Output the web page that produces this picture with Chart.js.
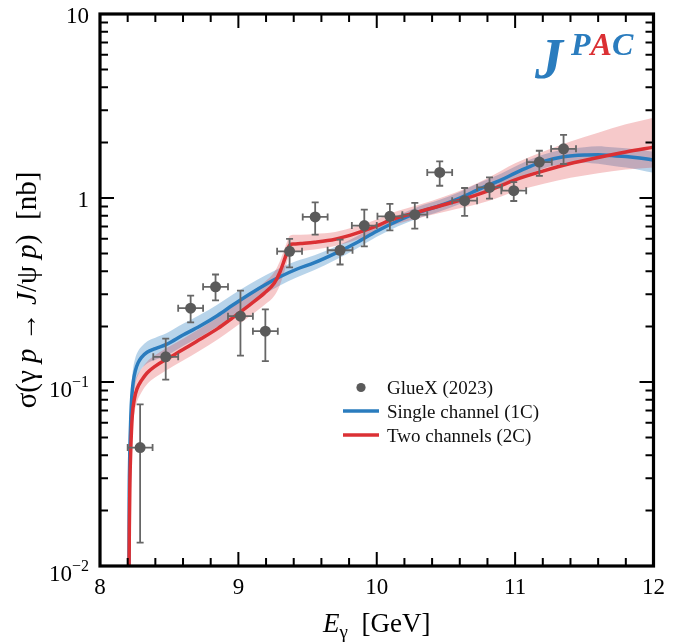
<!DOCTYPE html>
<html><head><meta charset="utf-8">
<script src="https://cdn.jsdelivr.net/npm/chart.js@4.4.0/dist/chart.umd.min.js"></script>
<style>html,body{margin:0;padding:0;background:#fff;}canvas{display:block;}</style>
</head><body>
<canvas id="c" width="673" height="643" style="width:673px;height:643px"></canvas>
<script>
// ---------- data ----------
const gluexE     = [8.29, 8.475, 8.655, 8.835, 9.015, 9.195, 9.37, 9.555, 9.735, 9.91, 10.095, 10.275, 10.455, 10.635, 10.815, 10.99, 11.175, 11.35];
const gluexSigma = [0.044, 0.137, 0.252, 0.329, 0.228, 0.189, 0.513, 0.789, 0.520, 0.708, 0.795, 0.812, 1.377, 0.967, 1.142, 1.096, 1.568, 1.851];
const gluexUp    = [0.0756, 0.172, 0.295, 0.384, 0.314, 0.248, 0.599, 0.946, 0.594, 0.864, 0.928, 0.940, 1.580, 1.133, 1.294, 1.221, 1.806, 2.206];
const gluexLow   = [0.0134, 0.103, 0.211, 0.278, 0.139, 0.130, 0.420, 0.632, 0.435, 0.546, 0.667, 0.681, 1.166, 0.800, 0.991, 0.963, 1.320, 1.530];
const gluexEErr  = [0.09, 0.09, 0.09, 0.09, 0.09, 0.09, 0.09, 0.09, 0.09, 0.09, 0.09, 0.09, 0.09, 0.09, 0.09, 0.09, 0.09, 0.09];

// Single channel (1C)
const c1E     = [8.208, 8.211, 8.214, 8.218, 8.223, 8.23, 8.24, 8.255, 8.275, 8.3, 8.34, 8.4, 8.48, 8.6, 8.72, 8.85, 8.96, 9.08, 9.2, 9.3, 9.42, 9.55, 9.7, 9.85, 10.0, 10.15, 10.3, 10.45, 10.6, 10.75, 10.9, 11.0, 11.1, 11.2, 11.35, 11.5, 11.6, 11.7, 11.8, 11.9, 12.0];
const c1Sigma = [0.004, 0.022, 0.036, 0.050, 0.066, 0.084, 0.100, 0.115, 0.127, 0.136, 0.145, 0.152, 0.160, 0.180, 0.201, 0.230, 0.262, 0.300, 0.340, 0.373, 0.410, 0.445, 0.500, 0.570, 0.660, 0.750, 0.835, 0.905, 1.000, 1.125, 1.255, 1.365, 1.475, 1.575, 1.675, 1.715, 1.720, 1.700, 1.680, 1.650, 1.610];
const c1Hi    = [0.0048, 0.0264, 0.0433, 0.060, 0.079, 0.101, 0.119, 0.135, 0.147, 0.156, 0.166, 0.174, 0.184, 0.207, 0.231, 0.264, 0.299, 0.340, 0.381, 0.416, 0.454, 0.488, 0.543, 0.615, 0.709, 0.804, 0.897, 0.974, 1.079, 1.216, 1.360, 1.482, 1.608, 1.718, 1.836, 1.890, 1.909, 1.885, 1.863, 1.830, 1.785];
const c1Lo    = [0.0033, 0.0183, 0.030, 0.0416, 0.055, 0.070, 0.084, 0.098, 0.109, 0.118, 0.126, 0.132, 0.139, 0.157, 0.175, 0.200, 0.229, 0.264, 0.303, 0.335, 0.370, 0.406, 0.460, 0.528, 0.615, 0.700, 0.777, 0.841, 0.927, 1.041, 1.158, 1.257, 1.353, 1.444, 1.528, 1.556, 1.533, 1.498, 1.463, 1.421, 1.370];

// Two channels (2C)
const c2E     = [8.2085, 8.212, 8.216, 8.222, 8.233, 8.25, 8.268, 8.3, 8.34, 8.4, 8.48, 8.6, 8.72, 8.85, 8.96, 9.08, 9.19, 9.26, 9.3, 9.33, 9.35, 9.362, 9.372, 9.4, 9.45, 9.55, 9.7, 9.85, 10.0, 10.1, 10.3, 10.5, 10.65, 10.8, 11.0, 11.2, 11.4, 11.6, 11.8, 12.0];
const c2Sigma = [0.006, 0.016, 0.028, 0.042, 0.065, 0.082, 0.092, 0.102, 0.112, 0.122, 0.133, 0.150, 0.170, 0.195, 0.224, 0.262, 0.305, 0.345, 0.395, 0.455, 0.505, 0.540, 0.556, 0.562, 0.566, 0.575, 0.597, 0.642, 0.705, 0.760, 0.840, 0.925, 1.000, 1.090, 1.255, 1.400, 1.540, 1.660, 1.780, 1.890];
const c2Hi    = [0.0072, 0.0201, 0.0353, 0.0517, 0.0781, 0.0975, 0.108, 0.118, 0.129, 0.140, 0.153, 0.172, 0.195, 0.224, 0.257, 0.301, 0.350, 0.396, 0.453, 0.522, 0.573, 0.606, 0.624, 0.631, 0.632, 0.638, 0.654, 0.699, 0.764, 0.824, 0.915, 1.026, 1.135, 1.281, 1.544, 1.784, 2.030, 2.266, 2.515, 2.731];
const c2Lo    = [0.0050, 0.0127, 0.0222, 0.0341, 0.0541, 0.069, 0.0783, 0.0879, 0.0971, 0.106, 0.116, 0.131, 0.148, 0.170, 0.195, 0.227, 0.263, 0.294, 0.336, 0.392, 0.440, 0.476, 0.496, 0.507, 0.514, 0.525, 0.548, 0.592, 0.653, 0.704, 0.775, 0.844, 0.895, 0.960, 1.086, 1.191, 1.287, 1.365, 1.430, 1.467];

// ticks
const xMajorTicks = [8, 9, 10, 11, 12];
const xTickLabels = ['8', '9', '10', '11', '12'];
const xMinorTicks = [8.2, 8.4, 8.6, 8.8, 9.2, 9.4, 9.6, 9.8, 10.2, 10.4, 10.6, 10.8, 11.2, 11.4, 11.6, 11.8];
const yMajorTicks = [0.01, 0.1, 1, 10];
const yTickBase   = ['10', '10', '1', '10'];
const yTickExp    = ['\u22122', '\u22121', '', ''];
const yMinorTicks = [0.02, 0.03, 0.04, 0.05, 0.06, 0.07, 0.08, 0.09, 0.2, 0.3, 0.4, 0.5, 0.6, 0.7, 0.8, 0.9, 2, 3, 4, 5, 6, 7, 8, 9];

const legendLabels = ['GlueX (2023)', 'Single channel (1C)', 'Two channels (2C)'];

// ---------- styles ----------
const SERIF = "'Liberation Serif', 'Times New Roman', serif";
const COL_BLUE = '#2a7cbe';
const COL_RED  = '#db3034';
const COL_DATA = '#5a5a5a';
const COL_ERR  = '#666666';
const BAND_BLUE = 'rgba(40,125,190,0.33)';
const BAND_RED  = 'rgba(220,45,50,0.26)';
const NONE = 'rgba(0,0,0,0)';

const pts = (xs, ys) => xs.map((v, i) => ({ x: v, y: ys[i] }));

const errorBarPlugin = {
  id: 'errorBars',
  beforeDatasetDraw(chart, args) {
    if (args.index !== 0) return;
    const { ctx, chartArea: a, scales: { x, y } } = chart;
    ctx.save();
    ctx.beginPath(); ctx.rect(a.left, a.top, a.right - a.left, a.bottom - a.top); ctx.clip();
    ctx.strokeStyle = COL_ERR; ctx.lineWidth = 1.8;
    const cap = 3.5;
    gluexE.forEach((e, i) => {
      const px = x.getPixelForValue(e), py = y.getPixelForValue(gluexSigma[i]);
      const x0 = x.getPixelForValue(e - gluexEErr[i]), x1 = x.getPixelForValue(e + gluexEErr[i]);
      const yU = y.getPixelForValue(gluexUp[i]), yL = y.getPixelForValue(gluexLow[i]);
      ctx.beginPath();
      ctx.moveTo(x0, py); ctx.lineTo(x1, py);
      ctx.moveTo(px, yU); ctx.lineTo(px, yL);
      ctx.moveTo(x0, py - cap); ctx.lineTo(x0, py + cap);
      ctx.moveTo(x1, py - cap); ctx.lineTo(x1, py + cap);
      ctx.moveTo(px - cap, yU); ctx.lineTo(px + cap, yU);
      ctx.moveTo(px - cap, yL); ctx.lineTo(px + cap, yL);
      ctx.stroke();
    });
    ctx.restore();
  }
};

function drawRich(ctx, segs, cx, baseY) {
  let total = 0;
  segs.forEach(s => { ctx.font = s.font; s.w = ctx.measureText(s.t).width; total += s.w; });
  let xx = cx - total / 2;
  ctx.textAlign = 'left'; ctx.textBaseline = 'alphabetic';
  segs.forEach(s => { ctx.font = s.font; ctx.fillText(s.t, xx, baseY + (s.dy || 0)); xx += s.w; });
}

const decorPlugin = {
  id: 'decor',
  afterDraw(chart) {
    const { ctx, chartArea: a, scales: { x, y } } = chart;
    const MAJ = 14, MIN = 8;
    ctx.save();
    ctx.strokeStyle = '#000'; ctx.lineWidth = 2;
    ctx.beginPath();
    const xt = (v, L) => { const p = x.getPixelForValue(v); ctx.moveTo(p, a.bottom); ctx.lineTo(p, a.bottom - L); ctx.moveTo(p, a.top); ctx.lineTo(p, a.top + L); };
    const yt = (v, L) => { const p = y.getPixelForValue(v); ctx.moveTo(a.left, p); ctx.lineTo(a.left + L, p); ctx.moveTo(a.right, p); ctx.lineTo(a.right - L, p); };
    xMajorTicks.forEach(v => xt(v, MAJ)); xMinorTicks.forEach(v => xt(v, MIN));
    yMajorTicks.forEach(v => yt(v, MAJ)); yMinorTicks.forEach(v => yt(v, MIN));
    ctx.stroke();
    ctx.lineWidth = 3.2;
    ctx.strokeRect(a.left, a.top, a.right - a.left, a.bottom - a.top);

    // y tick labels
    ctx.fillStyle = '#000'; ctx.textBaseline = 'alphabetic'; ctx.textAlign = 'right';
    yMajorTicks.forEach((v, i) => {
      const p = y.getPixelForValue(v);
      const exp = yTickExp[i];
      if (exp) {
        ctx.font = `16px ${SERIF}`;
        const we = ctx.measureText(exp).width;
        ctx.fillText(exp, 89, p + 5);
        ctx.font = `23px ${SERIF}`;
        ctx.fillText(yTickBase[i], 89 - we, p + 15);
      } else {
        ctx.font = `23px ${SERIF}`;
        ctx.fillText(yTickBase[i], 89, p + 8.5);
      }
    });

    // axis titles
    const FX = 27, FY = 29;
    drawRich(ctx, [
      { t: 'E', font: `italic ${FX}px ${SERIF}` },
      { t: '\u03b3', font: `${Math.round(FX * 0.7)}px ${SERIF}`, dy: 6 },
      { t: '  [GeV]', font: `${FX}px ${SERIF}` }
    ], (a.left + a.right) / 2, 632);
    ctx.save();
    ctx.translate(36, (a.top + a.bottom) / 2);
    ctx.rotate(-Math.PI / 2);
    const n = `${FY}px ${SERIF}`, it = `italic ${FY}px ${SERIF}`;
    drawRich(ctx, [
      { t: '\u03c3(\u03b3 ', font: n }, { t: 'p', font: it }, { t: ' \u2192 ', font: n },
      { t: 'J', font: it }, { t: '/\u03c8 ', font: n }, { t: 'p', font: it }, { t: ')  [nb]', font: n }
    ], 0, 0);
    ctx.restore();

    // legend
    ctx.fillStyle = COL_DATA;
    ctx.beginPath(); ctx.arc(361, 387.5, 4.6, 0, Math.PI * 2); ctx.fill();
    ctx.lineWidth = 3.5; ctx.lineCap = 'butt';
    ctx.strokeStyle = COL_BLUE; ctx.beginPath(); ctx.moveTo(343, 411); ctx.lineTo(379, 411); ctx.stroke();
    ctx.strokeStyle = COL_RED;  ctx.beginPath(); ctx.moveTo(343, 435); ctx.lineTo(379, 435); ctx.stroke();
    ctx.fillStyle = '#111'; ctx.font = `19px ${SERIF}`; ctx.textAlign = 'left'; ctx.textBaseline = 'alphabetic';
    ctx.fillText(legendLabels[0], 387, 394);
    ctx.fillText(legendLabels[1], 387, 418);
    ctx.fillText(legendLabels[2], 387, 442);

    // JPAC logo
    ctx.font = `bold italic 56px ${SERIF}`; ctx.fillStyle = COL_BLUE;
    ctx.fillText('J', 535, 78);
    ctx.font = `bold italic 32px ${SERIF}`;
    let lx = 571;
    [['P', COL_BLUE], ['A', COL_RED], ['C', COL_BLUE]].forEach(([ch, col]) => {
      ctx.fillStyle = col; ctx.fillText(ch, lx, 55); lx += ctx.measureText(ch).width;
    });
    ctx.restore();
  }
};

const lineDs = (data, color, order) => ({
  type: 'line', data, borderColor: color, borderWidth: 3.5, pointRadius: 0, fill: false,
  cubicInterpolationMode: 'monotone', order, clip: 0
});
const bandDs = (data, fill, bg, order) => ({
  type: 'line', data, borderColor: NONE, borderWidth: 0, pointRadius: 0, fill, backgroundColor: bg,
  cubicInterpolationMode: 'monotone', order, clip: 0
});

new Chart(document.getElementById('c'), {
  data: {
    datasets: [
      { type: 'scatter', label: legendLabels[0], data: pts(gluexE, gluexSigma), backgroundColor: COL_DATA,
        borderWidth: 0, pointRadius: 5.5, pointHoverRadius: 5.5, order: 0, clip: 0 },
      Object.assign(lineDs(pts(c2E, c2Sigma), COL_RED, 1), { label: legendLabels[2] }),
      Object.assign(lineDs(pts(c1E, c1Sigma), COL_BLUE, 2), { label: legendLabels[1] }),
      bandDs(pts(c2E, c2Hi), '+1', BAND_RED, 3),
      bandDs(pts(c2E, c2Lo), false, NONE, 3),
      bandDs(pts(c1E, c1Hi), '+1', BAND_BLUE, 4),
      bandDs(pts(c1E, c1Lo), false, NONE, 4)
    ]
  },
  options: {
    responsive: false, animation: false, devicePixelRatio: 1,
    layout: { padding: { left: 0, right: 12, top: 14, bottom: 0 } },
    plugins: { legend: { display: false }, tooltip: { enabled: false } },
    events: [],
    scales: {
      x: {
        type: 'linear', min: 8, max: 12,
        grid: { display: false, drawTicks: false }, border: { display: false },
        afterBuildTicks: s => { s.ticks = xMajorTicks.map(v => ({ value: v })); },
        ticks: { padding: 8, color: '#000', font: { family: SERIF, size: 23 },
                 callback: v => xTickLabels[xMajorTicks.indexOf(v)] ?? '' , maxRotation: 0, autoSkip: false },
        afterFit: s => { s.height = 77; }
      },
      y: {
        type: 'logarithmic', min: 0.01, max: 10,
        grid: { display: false, drawTicks: false }, border: { display: false },
        ticks: { display: false },
        afterFit: s => { s.width = 100; }
      }
    }
  },
  plugins: [errorBarPlugin, decorPlugin]
});
</script>
</body></html>
